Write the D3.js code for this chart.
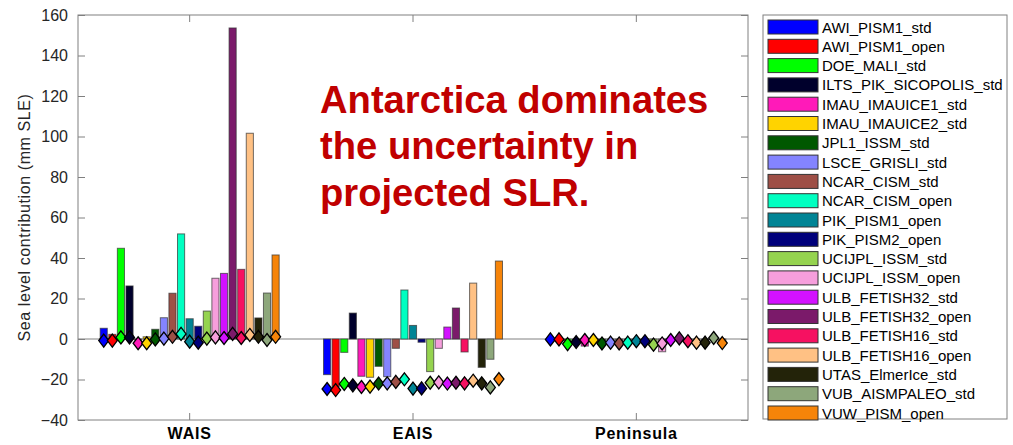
<!DOCTYPE html>
<html>
<head>
<meta charset="utf-8">
<script src="https://cdn.jsdelivr.net/npm/d3@7"></script>
<style>
body{margin:0;background:#fff;}
svg{font-family:"Liberation Sans",Arial,sans-serif;}
</style>
</head>
<body>
<svg id="screen" width="1013" height="445"></svg>
<script>
var regions=["WAIS","EAIS","Peninsula"];
var models=["AWI_PISM1_std","AWI_PISM1_open","DOE_MALI_std","ILTS_PIK_SICOPOLIS_std","IMAU_IMAUICE1_std","IMAU_IMAUICE2_std","JPL1_ISSM_std","LSCE_GRISLI_std","NCAR_CISM_std","NCAR_CISM_open","PIK_PISM1_open","PIK_PISM2_open","UCIJPL_ISSM_std","UCIJPL_ISSM_open","ULB_FETISH32_std","ULB_FETISH32_open","ULB_FETISH16_std","ULB_FETISH16_open","UTAS_ElmerIce_std","VUB_AISMPALEO_std","VUW_PISM_open"];
var colors=["#0000ff","#ff0000","#00ff00","#00002c","#ff1ab9","#ffd300","#005800","#8484ff","#9e4f46","#00ffc1","#008495","#00007b","#95d34f","#f69edc","#d311ff","#7b1a6a","#f61161","#ffc184","#232309","#8da77b","#f68409"];
var yTicks=[-40,-20,0,20,40,60,80,100,120,140,160];

// bar values (mm SLE)
var barWAIS=[5.3,2.3,44.8,26.2,-0.5,1.1,4.8,10.5,22.6,51.9,10.0,6.3,13.8,30.0,32.4,153.6,34.4,101.6,10.4,22.7,41.5];
var barEAIS=[-17.6,-23.5,-6.6,12.8,-18.4,-18.9,-13.5,-18.6,-4.6,24.2,6.7,-1.6,-16.1,-4.6,5.9,15.3,-6.4,27.6,-14.0,-10.0,38.5];
var barPen=[0.4,0.3,-0.8,-0.5,-3.5,-0.3,-1.0,-1.0,-0.8,-0.5,-0.3,-0.5,-3.5,-6.3,-0.3,0.3,-0.5,-0.8,-0.5,0.3,-1.0];
// diamond markers
var dmdWAIS=[-0.8,-0.8,0.8,0.8,-2.1,-2.1,-0.2,0.2,1.1,2.5,-1.3,-1.8,0.2,0.8,0.5,2.5,0.5,2.0,1.1,-0.5,1.1];
var dmdEAIS=[-24.7,-25.2,-22.2,-22.9,-23.7,-23.5,-22.0,-21.9,-21.2,-19.9,-24.5,-24.4,-21.6,-21.4,-22.0,-21.6,-21.9,-20.6,-21.9,-23.9,-19.8];
var dmdPen=[-0.2,-0.2,-2.5,-1.5,-0.5,-0.5,-2.2,-1.8,-2.2,-1.8,-1.1,-1.1,-2.8,-2.2,-0.5,0.3,-1.1,-1.8,-1.8,0.5,-2.0];

var bars=[barWAIS,barEAIS,barPen];
var dmds=[dmdWAIS,dmdEAIS,dmdPen];

var svg=d3.select("#screen");
var L=78,R=748,T=15,B=420;
var axisCol="#808080", txtCol="#262626";

var x=d3.scaleBand().domain(regions).range([L,R]);
var inner=d3.scaleBand().domain(d3.range(models.length)).range([-89.5,89.5]).paddingInner(0.17);
var y=d3.scaleLinear().domain([-40,160]).range([B,T]);

// zero line
svg.append("line").attr("x1",L).attr("x2",R).attr("y1",y(0)).attr("y2",y(0))
  .attr("stroke",axisCol).attr("stroke-width",1);

// bars
var groups=svg.selectAll("g.grp").data(regions).enter().append("g")
  .attr("transform",function(d){return "translate("+(x(d)+x.bandwidth()/2)+",0)";});
groups.each(function(r,gi){
  d3.select(this).selectAll("rect").data(bars[gi]).enter().append("rect")
    .attr("x",function(d,i){return inner(i);})
    .attr("width",inner.bandwidth())
    .attr("y",function(d){return y(Math.max(0,d));})
    .attr("height",function(d){return Math.abs(y(d)-y(0));})
    .attr("fill",function(d,i){return colors[i];})
    .attr("stroke","#333").attr("stroke-opacity",0.7).attr("stroke-width",1);
});
// diamonds
groups.each(function(r,gi){
  d3.select(this).selectAll("path").data(dmds[gi]).enter().append("path")
    .attr("d","M0,-6.5L5,0L0,6.5L-5,0Z")
    .attr("transform",function(d,i){return "translate("+(inner(i)+inner.bandwidth()/2)+","+y(d)+")";})
    .attr("fill",function(d,i){return colors[i];})
    .attr("stroke","#000").attr("stroke-width",1.3);
});

// axes box
svg.append("rect").attr("x",L).attr("y",T).attr("width",R-L).attr("height",B-T)
  .attr("fill","none").attr("stroke",axisCol).attr("stroke-width",1);

var yl=d3.axisLeft(y).tickValues(yTicks).tickSize(-7).tickPadding(10);
var gy=svg.append("g").attr("transform","translate("+L+",0)").call(yl);
var yr=d3.axisRight(y).tickValues(yTicks).tickSize(-7).tickFormat("");
var gyr=svg.append("g").attr("transform","translate("+R+",0)").call(yr);
var xb=d3.axisBottom(x).tickSize(-7).tickPadding(0);
var gx=svg.append("g").attr("transform","translate(0,"+B+")").call(xb);
var xt=d3.axisTop(x).tickSize(-7).tickFormat("");
var gxt=svg.append("g").attr("transform","translate(0,"+T+")").call(xt);
[gy,gyr,gx,gxt].forEach(function(g){
  g.select(".domain").remove();
  g.selectAll(".tick line").attr("stroke",axisCol);
});
gy.selectAll("text").attr("font-size",16).attr("fill",txtCol).attr("font-family","Liberation Sans, Arial, sans-serif");
gx.selectAll("text").attr("y",19).attr("dy",0).attr("font-size",16).attr("font-weight","bold")
  .attr("letter-spacing",0.8).attr("fill","#000").attr("font-family","Liberation Sans, Arial, sans-serif");

svg.append("text").attr("transform","translate(30,"+((T+B)/2)+") rotate(-90)")
  .attr("text-anchor","middle").attr("font-size",16).attr("letter-spacing",0.6).attr("fill",txtCol)
  .text("Sea level contribution (mm SLE)");

// annotation
var lines=["Antarctica dominates","the uncertainty in","projected SLR."];
svg.selectAll("text.note").data(lines).enter().append("text").attr("class","note")
  .attr("x",320).attr("y",function(d,i){return 112.5+i*46.8;})
  .attr("font-size",38.2).attr("font-weight","bold").attr("fill","#c00000")
  .text(function(d){return d;});

// legend
var lg=svg.append("g");
lg.append("rect").attr("x",763).attr("y",15).attr("width",244).attr("height",404)
  .attr("fill","#fff").attr("stroke",axisCol).attr("stroke-width",1);
var items=lg.selectAll("g.it").data(models).enter().append("g")
  .attr("transform",function(d,i){return "translate(0,"+(27+i*19.3)+")";});
items.append("rect").attr("x",768).attr("y",-7).attr("width",50).attr("height",14)
  .attr("fill",function(d,i){return colors[i];}).attr("stroke","#333").attr("stroke-width",1);
items.append("text").attr("x",822).attr("y",5.5).attr("font-size",15).attr("fill","#000")
  .text(function(d){return d;});
</script>
</body>
</html>
